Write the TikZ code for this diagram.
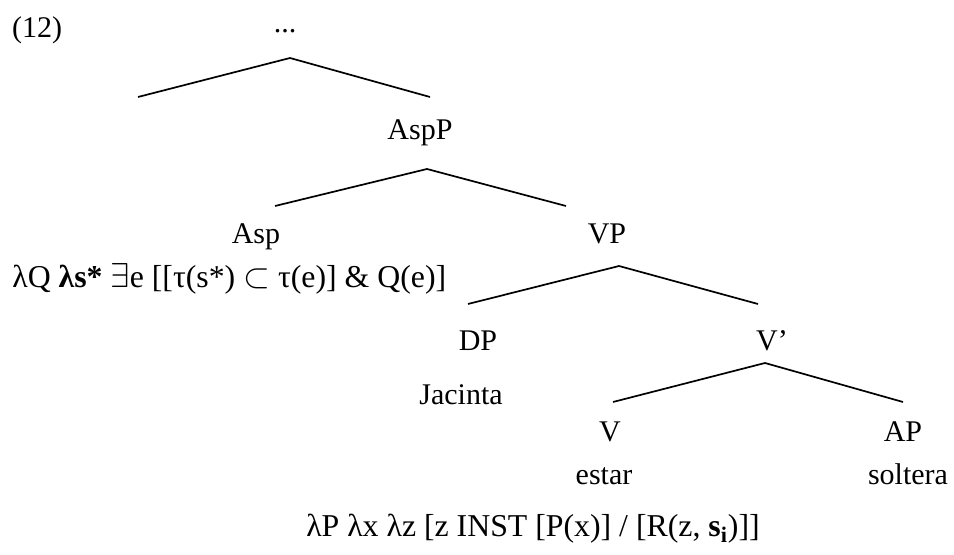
\documentclass[tikz,border=0pt]{standalone}
\usepackage{fontspec}
\setmainfont{Liberation Serif}
\usepackage{tikz}
\tikzset{every node/.style={align=center, inner sep=0pt, anchor=base}, font=\fontsize{15}{18}\selectfont, branch/.style={line width=0.85pt}, lf/.style={font=\fontsize{15.9}{18}\selectfont}}

\begin{document}
\begin{tikzpicture}[x=0.5pt,y=-0.5pt]
            \useasboundingbox (0,0) rectangle (954,555);
            \node (ex) at (37,38) {(12)};
            \node (dots) at (285,33) {...};
            \node (aspp) at (420,140) {AspP};
            \node (asp) at (256,244) {Asp};
            \node (vp) at (607,244) {VP};
            \node[lf,anchor=base west] (asplf) at (12,288) {λQ \textbf{λs*} $\exists$e [[τ(s*) $\subset$ τ(e)] \& Q(e)]};
            \node (dp) at (478,351) {DP};
            \node (vbar) at (772,351) {V’};
            \node (jac) at (461,405) {Jacinta};
            \node (v) at (610,442) {V};
            \node (ap) at (903,442) {AP};
            \node (estar) at (604,485) {estar};
            \node (solt) at (908,485) {soltera};
            \node[lf] (vlf) at (533,537) {λP λx λz [z INST [P(x)] / [R(z, \textbf{s\textsubscript{i}})]]};
            % branch points
            \coordinate (b0) at (290,58);
            \coordinate (b0l) at (138,97);
            \coordinate (b0r) at (430,97);
            \coordinate (b1) at (427,169);
            \coordinate (b1l) at (275,206);
            \coordinate (b1r) at (566,206);
            \coordinate (b2) at (619,266);
            \coordinate (b2l) at (468,304);
            \coordinate (b2r) at (758,304);
            \coordinate (b3) at (765,363);
            \coordinate (b3l) at (613,402);
            \coordinate (b3r) at (903,402);
            \draw[branch] (b0l) -- (b0) -- (b0r);
            \draw[branch] (b1l) -- (b1) -- (b1r);
            \draw[branch] (b2l) -- (b2) -- (b2r);
            \draw[branch] (b3l) -- (b3) -- (b3r);
        \end{tikzpicture}
\end{document}
